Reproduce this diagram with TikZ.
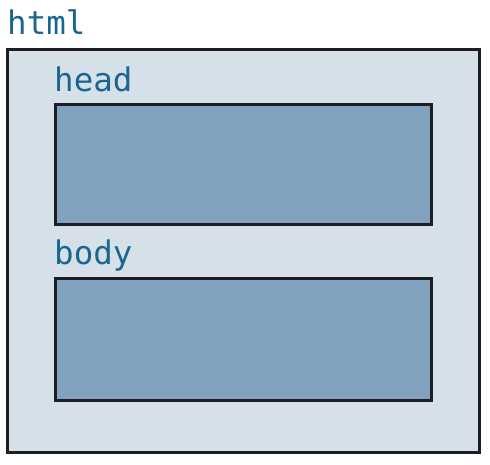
\documentclass[tikz,border=0pt]{standalone}
\usepackage{fontspec}
\newfontfamily\monofont{DejaVu Sans Mono}
\definecolor{outerfill}{HTML}{D6E0E9}
\definecolor{innerfill}{HTML}{80A2BF}
\definecolor{labelcol}{HTML}{1B6690}
\definecolor{edge}{HTML}{1E1E22}
\begin{document}
\begin{tikzpicture}[x=1pt,y=-1pt,
  outerbox/.style={draw=edge,line width=3pt,fill=outerfill},
  innerbox/.style={draw=edge,line width=3pt,fill=innerfill},
  lbl/.style={font=\monofont\fontsize{32.5}{32.5}\selectfont,text=labelcol,anchor=base west,inner sep=0pt}]
\useasboundingbox (0,0) rectangle (490,464);
\fill[white] (0,0) rectangle (490,464);
\draw[outerbox] (7,49) rectangle (479,452);
\draw[innerbox] (55,104) rectangle (431,224);
\draw[innerbox] (55,278) rectangle (431,400);
\node[lbl] (html) at (7,34) {html};
\node[lbl] (head) at (54,91) {head};
\node[lbl] (body) at (54,264) {body};
\end{tikzpicture}
\end{document}
